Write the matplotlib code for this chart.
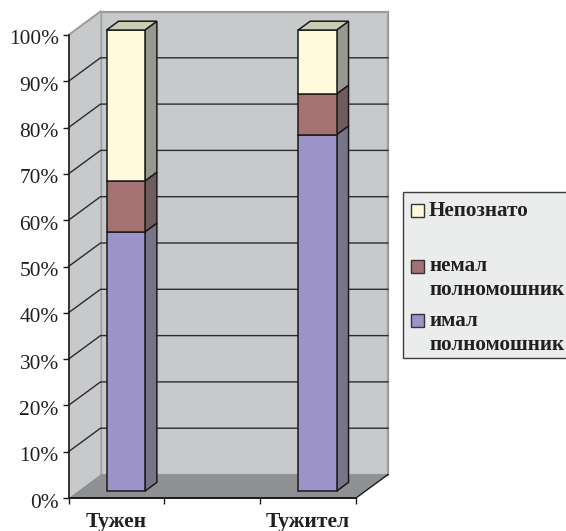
import matplotlib
matplotlib.use("Agg")
import matplotlib.pyplot as plt
from matplotlib.patches import Polygon, Rectangle
from matplotlib.transforms import ScaledTranslation

plt.rcParams['font.family'] = ['Liberation Serif', 'DejaVu Serif']

categories = ["Тужен", "", "Тужител"]
imal = [56.0, 0, 77.0]
nemal = [11.0, 0, 8.8]
nepoznato = [32.6, 0, 13.8]
series_names = ["имал\nполномошник", "немал\nполномошник", "Непознато"]
yticks = [0, 10, 20, 30, 40, 50, 60, 70, 80, 90, 100]

W, H = 566, 531
INK = '#231f20'
fig = plt.figure(figsize=(W / 100, H / 100), dpi=100, facecolor='white')
# axes rectangle = front plane of the 3D box
L, R, T, B = 68.5, 356.0, 35.0, 498.0
ax = fig.add_axes([L / W, 1 - B / H, (R - L) / W, (B - T) / H])
ax.set_xlim(0, 3)
ax.set_ylim(0, 100)
ax.patch.set_visible(False)
for s in ax.spines.values():
    s.set_visible(False)

ux = (R - L) / 3      # px per category
uy = (B - T) / 100    # px per percent
DX, DY = 32 / ux, 23.5 / uy   # box depth in data units


def off(x, y, z):
    return (x + DX * z, y + DY * z)


def poly(pts, fc, ec='none', lw=0.0, zorder=1):
    ax.add_patch(Polygon(pts, closed=True, facecolor=fc, edgecolor=ec,
                         linewidth=lw, clip_on=False, zorder=zorder,
                         joinstyle='miter'))


# walls and floor
poly([off(0, 0, 1), off(3, 0, 1), off(3, 100, 1), off(0, 100, 1)],
     '#c8c9cb', '#9a9b9d', 1.6, 1)
poly([off(0, 0, 0), off(0, 0, 1), off(0, 100, 1), off(0, 100, 0)],
     '#c8c9cb', 'none', 0, 1)
ax.plot(*zip(off(0, 100, 0), off(0, 100, 1)), color='#9a9b9d', lw=1.4,
        clip_on=False, zorder=2)
poly([off(0, 0, 0), off(3, 0, 0), off(3, 0, 1), off(0, 0, 1)],
     '#8f9093', 'none', 0, 2)

# gridlines
for v in yticks[1:-1]:
    ax.plot(*zip(off(0, v, 0), off(0, v, 1), off(3, v, 1)),
            color='#2b2b2b', lw=1.0, clip_on=False, zorder=3)

# stacked bars
BW = 0.4
Z0, Z1 = 0.29, 0.665
FRONT = ['#9c94c8', '#a57274', '#fffadb']
SIDE = ['#767489', '#705c5c', '#979890']
TOP = '#cccbb4'
for i, cat in enumerate(categories):
    vals = [imal[i], nemal[i], nepoznato[i]]
    if sum(vals) == 0:
        continue
    x0, x1 = i + 0.5 - BW / 2, i + 0.5 + BW / 2
    base = 0
    for v, fc, sc in zip(vals, FRONT, SIDE):
        y0, y1 = base, base + v
        poly([off(x1, y0, Z0), off(x1, y0, Z1), off(x1, y1, Z1), off(x1, y1, Z0)],
             sc, '#1a1a1a', 1.1, 5)
        poly([off(x0, y0, Z0), off(x1, y0, Z0), off(x1, y1, Z0), off(x0, y1, Z0)],
             fc, '#1a1a1a', 1.1, 6)
        base = y1
    poly([off(x0, base, Z0), off(x1, base, Z0), off(x1, base, Z1), off(x0, base, Z1)],
         TOP, '#1a1a1a', 1.1, 6)

# axes lines, ticks, labels
ax.plot([0, 0], [0, 100], color='#1a1a1a', lw=1.2, clip_on=False, zorder=8)
ax.plot([0, 3], [0, 0], color='#1a1a1a', lw=1.4, clip_on=False, zorder=8)
ax.plot(*zip(off(3, 0, 0), off(3, 0, 1)), color='#1a1a1a', lw=1.0,
        clip_on=False, zorder=8)
ax.set_yticks(yticks)
ax.set_yticklabels([f"{v}%" for v in yticks], fontsize=15.4, color=INK)
ax.set_xticks([0, 1, 2, 3])
ax.set_xticklabels([])
ax.tick_params(axis='both', length=4, width=1.0, color='#1a1a1a', pad=3)
shift = ScaledTranslation(0, -2.5 / 100, fig.dpi_scale_trans)
for lab in ax.get_yticklabels():
    lab.set_transform(lab.get_transform() + shift)
for i, cat in enumerate(categories):
    ax.text(i + 0.5, -5.2, cat, ha='center', va='center', fontsize=15.5,
            fontweight='bold', color=INK, clip_on=False)


# legend box in figure pixels
def fx(x):
    return x / W


def fy(y):
    return 1 - y / H


fig.add_artist(Rectangle((fx(403), fy(358)), (566 - 403 + 3) / W, (358 - 192) / H,
                         transform=fig.transFigure, facecolor='#ebeded',
                         edgecolor='#3c3c3c', linewidth=1.0))
legend_rows = [(2, 211, [(series_names[2], 211)]),
               (1, 266, [("немал", 266), ("полномошник", 290)]),
               (0, 320, [("имал", 321), ("полномошник", 345)])]
for idx, yc, lines in legend_rows:
    fig.add_artist(Rectangle((fx(410.5), fy(yc + 6.5)), 13.5 / W, 13 / H,
                             transform=fig.transFigure, facecolor=FRONT[idx],
                             edgecolor='#333333', linewidth=1.0))
    for txt, y in lines:
        fig.text(fx(429), fy(y), txt, ha='left', va='center', fontsize=15.2,
                 fontweight='bold', color=INK)

fig.savefig("out.png", dpi=100)
